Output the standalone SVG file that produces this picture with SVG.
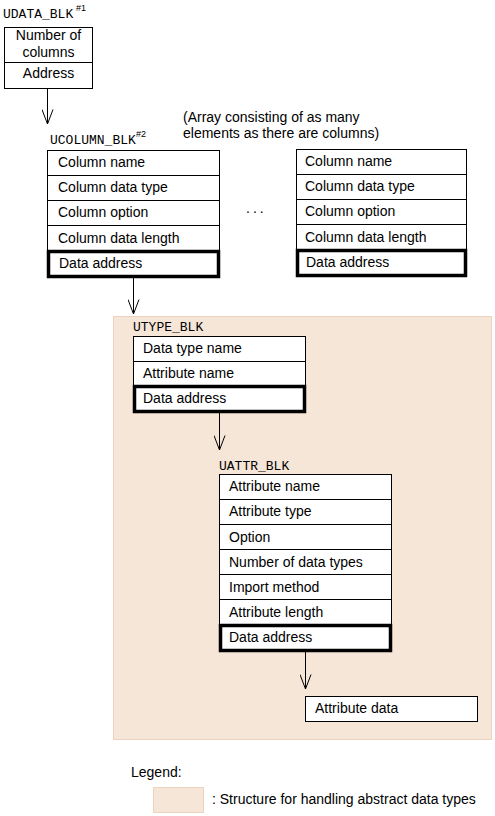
<svg xmlns="http://www.w3.org/2000/svg" width="495" height="816" viewBox="0 0 495 816">
<style>
.t{font-family:"Liberation Sans",Arial,sans-serif;font-size:14px;fill:#000}
.m{font-family:"Liberation Mono","Courier New",monospace;font-size:13px;fill:#000}
.s{font-family:"Liberation Sans",Arial,sans-serif;font-size:9px;fill:#000}
.c{fill:#fff;stroke:#000;stroke-width:1}
.k{fill:#fff;stroke:#000;stroke-width:3.5}
.ln{stroke:#000;stroke-width:1;fill:none}
.bg{fill:#F6E6D8;stroke:#EBD3BF;stroke-width:1}
</style>
<defs>
<marker id="ah" markerWidth="16" markerHeight="12" refX="15" refY="6" orient="auto" markerUnits="userSpaceOnUse" viewBox="0 0 16 12">
<path d="M0.5,0.5 L15,6 L0.5,11.5" fill="none" stroke="#000" stroke-width="1"/>
</marker>
</defs>
<rect id="abstract-area" class="bg" x="113.5" y="316.5" width="378" height="423"/>
<g id="connectors">
<path class="ln" d="M47.5,88 V124" marker-end="url(#ah)"/>
<path class="ln" d="M133.5,278 V314" marker-end="url(#ah)"/>
<path class="ln" d="M219.5,413 V450" marker-end="url(#ah)"/>
<path class="ln" d="M305.5,652 V689" marker-end="url(#ah)"/>
</g>
<g id="udata_blk">
<text class="m" x="3" y="18">UDATA_BLK</text><text class="s" x="76" y="11">#1</text>
<rect class="c" x="4.5" y="27.5" width="88" height="61"/>
<line class="ln" x1="4.5" y1="62.5" x2="92.5" y2="62.5"/>
<text class="t" x="48.5" y="40" text-anchor="middle">Number of</text>
<text class="t" x="48.5" y="57" text-anchor="middle">columns</text>
<text class="t" x="48.5" y="78" text-anchor="middle">Address</text>
</g>
<text id="array-note" class="t"><tspan x="183" y="122">(Array consisting of as many</tspan><tspan x="183" y="138">elements as there are columns)</tspan></text>
<g id="ucolumn_blk">
<text class="m" x="50" y="144">UCOLUMN_BLK</text><text class="s" x="136" y="137">#2</text>
<rect class="c" x="47.5" y="150.5" width="172" height="25"/>
<rect class="c" x="47.5" y="175.5" width="172" height="25"/>
<rect class="c" x="47.5" y="200.5" width="172" height="25"/>
<rect class="c" x="47.5" y="225.5" width="172" height="25"/>
<rect class="k" x="48.5" y="251.5" width="170" height="25"/>
<text class="t" x="58" y="167">Column name</text>
<text class="t" x="58" y="192">Column data type</text>
<text class="t" x="58" y="217">Column option</text>
<text class="t" x="58" y="243">Column data length</text>
<text class="t" x="59" y="268">Data address</text>
</g>
<text id="ellipsis" class="t" x="246" y="213" letter-spacing="3">...</text>
<g id="ucolumn_blk_n">
<rect class="c" x="296.5" y="149.5" width="170" height="25"/>
<rect class="c" x="296.5" y="174.5" width="170" height="25"/>
<rect class="c" x="296.5" y="199.5" width="170" height="25"/>
<rect class="c" x="296.5" y="224.5" width="170" height="25"/>
<rect class="k" x="297.5" y="250.5" width="168" height="25"/>
<text class="t" x="305" y="166">Column name</text>
<text class="t" x="305" y="191">Column data type</text>
<text class="t" x="305" y="216">Column option</text>
<text class="t" x="305" y="242">Column data length</text>
<text class="t" x="306" y="267">Data address</text>
</g>
<g id="utype_blk">
<text class="m" x="133" y="331">UTYPE_BLK</text>
<rect class="c" x="133.5" y="336.5" width="172" height="25"/>
<rect class="c" x="133.5" y="361.5" width="172" height="25"/>
<rect class="k" x="134.5" y="386.5" width="170" height="25"/>
<text class="t" x="143" y="353">Data type name</text>
<text class="t" x="143" y="378">Attribute name</text>
<text class="t" x="143" y="403">Data address</text>
</g>
<g id="uattr_blk">
<text class="m" x="219" y="470">UATTR_BLK</text>
<rect class="c" x="219.5" y="474.5" width="172" height="25"/>
<rect class="c" x="219.5" y="499.5" width="172" height="25"/>
<rect class="c" x="219.5" y="524.5" width="172" height="25"/>
<rect class="c" x="219.5" y="549.5" width="172" height="25"/>
<rect class="c" x="219.5" y="574.5" width="172" height="25"/>
<rect class="c" x="219.5" y="599.5" width="172" height="25"/>
<rect class="k" x="220.5" y="625.5" width="170" height="25"/>
<text class="t" x="229" y="491">Attribute name</text>
<text class="t" x="229" y="516">Attribute type</text>
<text class="t" x="229" y="542">Option</text>
<text class="t" x="229" y="567">Number of data types</text>
<text class="t" x="229" y="592">Import method</text>
<text class="t" x="229" y="617">Attribute length</text>
<text class="t" x="229" y="642">Data address</text>
</g>
<g id="attribute_data">
<rect class="c" x="305.5" y="696.5" width="172" height="25"/>
<text class="t" x="315" y="713">Attribute data</text>
</g>
<g id="legend">
<text class="t" x="131" y="777">Legend:</text>
<rect class="bg" x="153.5" y="787.5" width="50" height="25"/>
<text class="t" x="212" y="804">: Structure for handling abstract data types</text>
</g>
</svg>
